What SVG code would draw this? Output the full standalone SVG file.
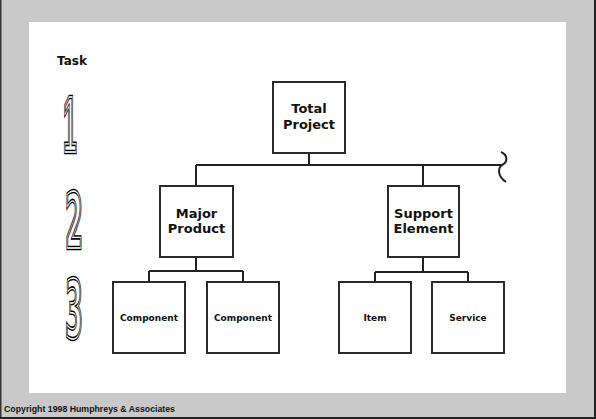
<svg xmlns="http://www.w3.org/2000/svg" width="596" height="419" viewBox="0 0 596 419">
<style>
.box{fill:#fff;stroke:#2a2a2a;stroke-width:2}
.lbl{font-family:"DejaVu Sans",sans-serif;font-weight:bold;font-size:13px;fill:#111;text-anchor:middle}
.sm{font-family:"DejaVu Sans",sans-serif;font-weight:bold;font-size:9px;fill:#111;text-anchor:middle}
.ln{stroke:#222;stroke-width:2;fill:none}
.dg{font-family:"DejaVu Sans Condensed","DejaVu Sans",sans-serif;font-weight:bold;font-size:40px;text-anchor:middle}
.one{font-family:"Liberation Sans Narrow","Liberation Sans",sans-serif}
.d1{fill:#fff;stroke:#000;stroke-width:3.4;vector-effect:non-scaling-stroke;stroke-linejoin:miter}
.d2{fill:none;stroke:#fff;stroke-width:1;vector-effect:non-scaling-stroke;stroke-linejoin:miter}
</style>
<rect x="0" y="0" width="596" height="419" fill="#c9c9c9"/>
<rect x="0" y="0" width="1.5" height="419" fill="#333"/>
<rect x="594" y="0" width="2" height="419" fill="#222"/>
<rect x="0" y="417" width="596" height="2" fill="#222"/>
<rect x="29" y="22" width="537" height="371" fill="#fff"/>
<text x="57" y="65" font-family="DejaVu Sans,sans-serif" font-weight="bold" font-size="12" fill="#111">Task</text>
<g id="digits">
<g transform="translate(70,152) scale(0.6,1.98)">
<text class="dg one d1">1</text><text class="dg one d2">1</text>
</g>
<g transform="translate(74,248) scale(0.7,1.9)">
<text class="dg d1">2</text><text class="dg d2">2</text>
</g>
<g transform="translate(74,338) scale(0.7,2.0)">
<text class="dg d1">3</text><text class="dg d2">3</text>
</g>
</g>
<g id="connectors">
<path class="ln" d="M309,153 V165"/>
<path class="ln" d="M196,165 H502"/>
<path class="ln" d="M501,152 C508,155 508,162 502,165 C498,168 497,176 506,182"/>
<path class="ln" d="M196,165 V186"/>
<path class="ln" d="M423,165 V186"/>
<path class="ln" d="M196,257 V271 M149,271 H243 M149,271 V282 M243,271 V282"/>
<path class="ln" d="M423,257 V272 M375,272 H468 M375,272 V282 M468,272 V282"/>
</g>
<g id="total"><rect class="box" x="273" y="82" width="72" height="71"/><text class="lbl" x="309" y="113">Total</text><text class="lbl" x="309" y="129">Project</text></g>
<g id="major"><rect class="box" x="160" y="186" width="73" height="71"/><text class="lbl" x="196.5" y="218">Major</text><text class="lbl" x="196.5" y="233">Product</text></g>
<g id="support"><rect class="box" x="388" y="186" width="71" height="71"/><text class="lbl" x="423.5" y="218">Support</text><text class="lbl" x="423.5" y="233">Element</text></g>
<g id="comp1"><rect class="box" x="113" y="282" width="72" height="71"/><text class="sm" x="149" y="321">Component</text></g>
<g id="comp2"><rect class="box" x="207" y="282" width="72" height="71"/><text class="sm" x="243" y="321">Component</text></g>
<g id="item"><rect class="box" x="339" y="282" width="72" height="71"/><text class="sm" x="375" y="321">Item</text></g>
<g id="service"><rect class="box" x="432" y="282" width="72" height="71"/><text class="sm" x="468" y="321">Service</text></g>
<text x="4" y="412" font-family="Liberation Sans,sans-serif" font-weight="bold" font-size="9" fill="#111" textLength="171" lengthAdjust="spacingAndGlyphs">Copyright 1998 Humphreys &amp; Associates</text>
</svg>
